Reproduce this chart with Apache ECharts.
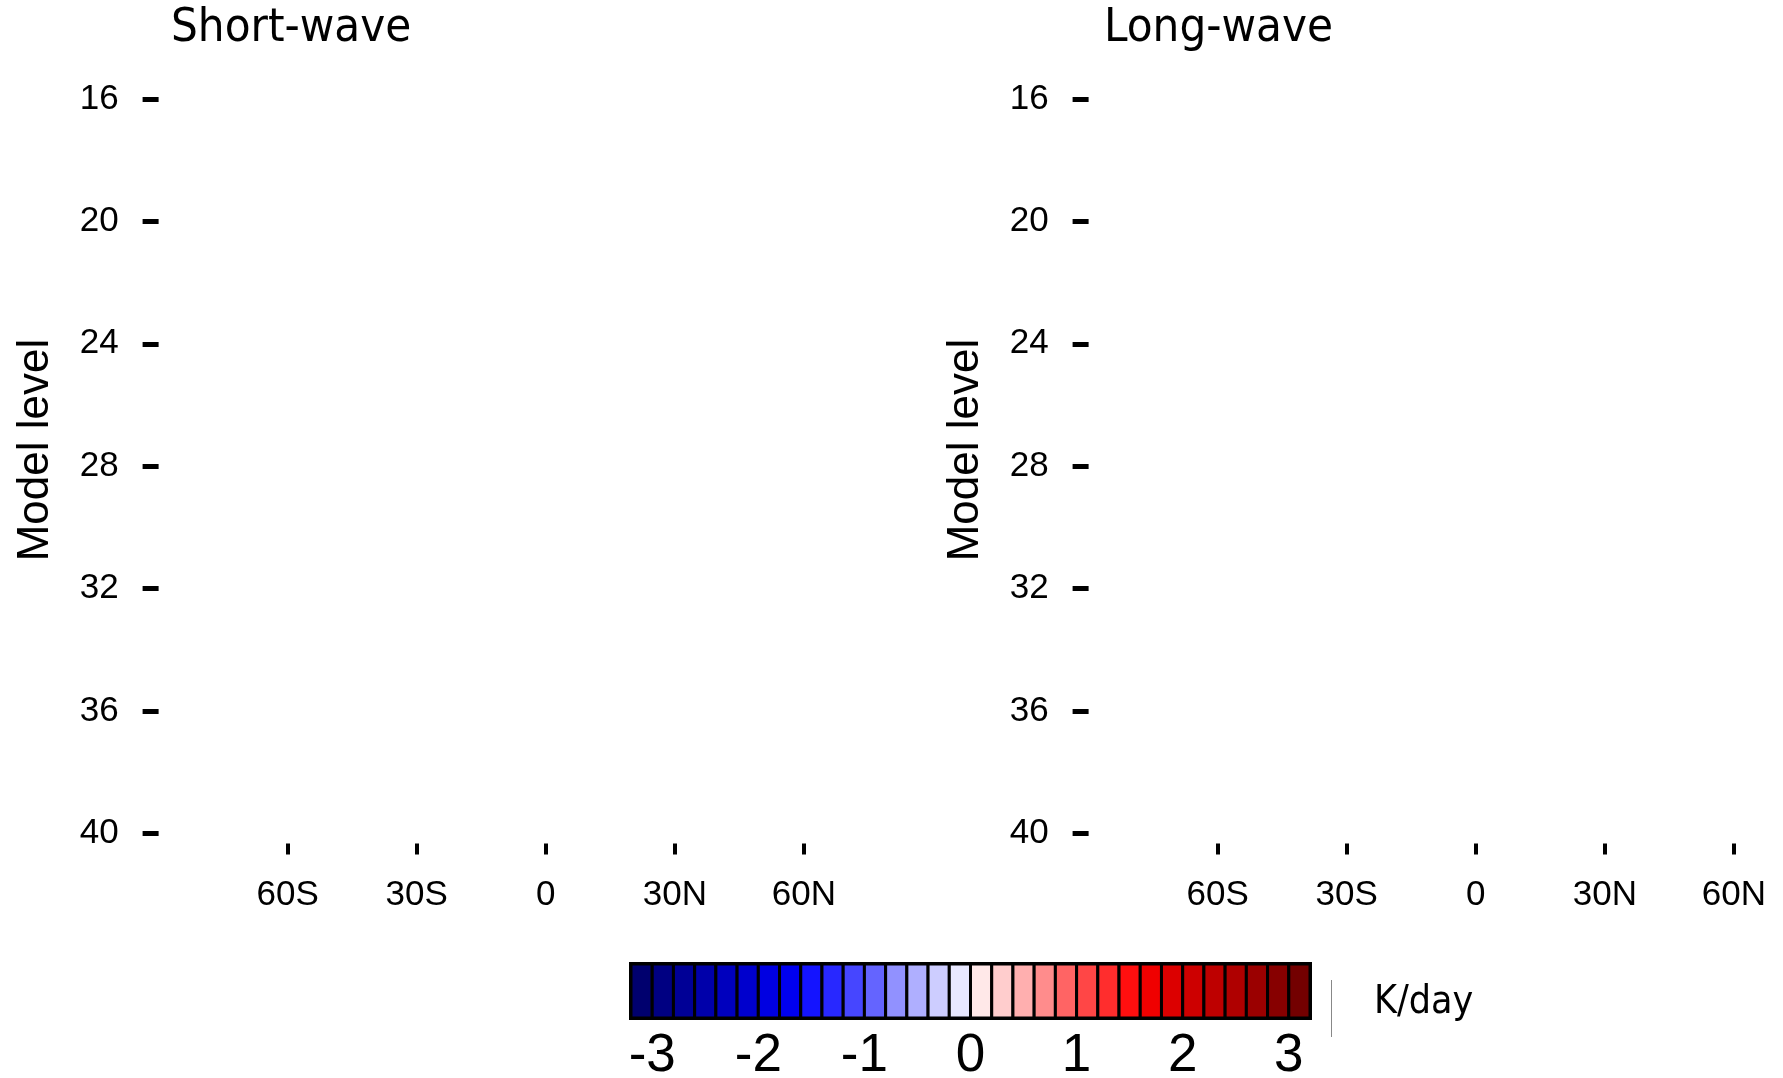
<!DOCTYPE html>
<html>
<head>
<meta charset="utf-8">
<script src="https://cdn.jsdelivr.net/npm/echarts@6/dist/echarts.min.js"></script>
<style>
html,body{margin:0;padding:0;background:#fff;overflow:hidden;}
#chart{width:1783px;height:1078px;}
</style>
</head>
<body>
<div id="chart"></div>
<script>
// ---- data ----
const panelTitles = ['Short-wave', 'Long-wave'];
const levelTicks = [16, 20, 24, 28, 32, 36, 40];
const latTicks = [-60, -30, 0, 30, 60];
const latLabels = ['60S', '30S', '0', '30N', '60N'];
const cbarBounds = [-3.2, -3.0, -2.8, -2.6, -2.4, -2.2, -2.0, -1.8, -1.6, -1.4, -1.2, -1.0, -0.8, -0.6, -0.4, -0.2, 0.0,
                    0.2, 0.4, 0.6, 0.8, 1.0, 1.2, 1.4, 1.6, 1.8, 2.0, 2.2, 2.4, 2.6, 2.8, 3.0, 3.2];
const cbarTicks = [-3, -2, -1, 0, 1, 2, 3];
const cbarUnit = 'K/day';
const palette = [
  '#00006e', '#000082', '#000096', '#0000aa', '#0000be', '#0000cd', '#0000e1', '#0000f0',
  '#1414ff', '#2828ff', '#4646ff', '#6464ff', '#9191ff', '#afafff', '#cdcdff', '#e8e8ff',
  '#ffe8e8', '#ffcdcd', '#ffafaf', '#ff8c8c', '#ff6464', '#ff4646', '#ff2d2d', '#ff0f0f',
  '#f00000', '#dc0000', '#cd0000', '#be0000', '#af0000', '#9b0000', '#870000', '#730000'
];

// ---- layout ----
const tickFont = 'Liberation Sans';
const titleFont = '"DejaVu Sans Condensed", "DejaVu Sans", sans-serif';
const gridLefts = [158.6, 1088.6];
const plotW = 774.3, plotTop = 98.9, plotH = 734.6;

const grids = [], xAxes = [], yAxes = [], series = [];
gridLefts.forEach((L, i) => {
  grids.push({left: L, top: plotTop, width: plotW, height: plotH, show: false, containLabel: false, outerBoundsMode: 'none'});
  xAxes.push({
    type: 'value', gridIndex: i, min: -90, max: 90, interval: 30, position: 'bottom', offset: 10,
    axisLine: {show: false, onZero: false}, splitLine: {show: false},
    axisTick: {show: true, inside: false, length: 11, lineStyle: {color: '#000', width: 4}, customValues: latTicks},
    axisLabel: {show: true, margin: 34, color: '#000', fontFamily: tickFont, fontSize: 35,
      customValues: latTicks,
      formatter: v => { const k = latTicks.indexOf(v); return k >= 0 ? latLabels[k] : ''; }}
  });
  yAxes.push({
    type: 'value', gridIndex: i, min: 16, max: 40, interval: 4, inverse: true, position: 'left',
    axisLine: {show: false, onZero: false}, splitLine: {show: false},
    axisTick: {show: true, inside: false, length: 16, lineStyle: {color: '#000', width: 5}, customValues: levelTicks},
    axisLabel: {show: true, margin: 40, color: '#000', fontFamily: tickFont, fontSize: 35, customValues: levelTicks}
  });
  series.push({type: 'scatter', xAxisIndex: i, yAxisIndex: i, data: [], silent: true});
});

// colour bar
grids.push({left: 631, top: 964, width: 679, height: 54, show: true, borderColor: '#000', borderWidth: 4,
  backgroundColor: 'transparent', outerBoundsMode: 'none'});
xAxes.push({
  type: 'value', gridIndex: 2, min: cbarBounds[0], max: cbarBounds[cbarBounds.length - 1], position: 'bottom',
  axisLine: {show: false, onZero: false}, axisTick: {show: false}, splitLine: {show: false},
  axisLabel: {show: true, margin: 12, color: '#000', fontFamily: tickFont, fontSize: 53, customValues: cbarTicks,
    formatter: v => String(v)}
});
yAxes.push({type: 'value', gridIndex: 2, min: 0, max: 1, show: false});
const cbarData = palette.map((c, k) => ({value: [cbarBounds[k], cbarBounds[k + 1], k]}));
series.push({
  type: 'custom', xAxisIndex: 2, yAxisIndex: 2, silent: true, z: 1,
  data: cbarData,
  renderItem: (params, api) => {
    const p0 = api.coord([api.value(0), 1]);
    const p1 = api.coord([api.value(1), 0]);
    return {type: 'rect', shape: {x: p0[0], y: p0[1], width: p1[0] - p0[0], height: p1[1] - p0[1]},
      style: {fill: palette[api.value(2)], stroke: '#000', lineWidth: 3}};
  }
});

const graphics = [
  {type: 'text', left: 171, top: 5, style: {text: panelTitles[0], font: '47px ' + titleFont, fill: '#000'}},
  {type: 'text', left: 1104, top: 5, style: {text: panelTitles[1], font: '47px ' + titleFont, fill: '#000'}},
  {type: 'text', x: 36, y: 450, rotation: Math.PI / 2,
    style: {text: 'Model level', font: '44px ' + tickFont, fill: '#000', align: 'center', verticalAlign: 'middle'}},
  {type: 'text', x: 966, y: 450, rotation: Math.PI / 2,
    style: {text: 'Model level', font: '44px ' + tickFont, fill: '#000', align: 'center', verticalAlign: 'middle'}},
  {type: 'text', x: 1374, y: 1003, style: {text: cbarUnit, font: '39px ' + titleFont, fill: '#000', align: 'left', verticalAlign: 'middle'}},
  {type: 'line', shape: {x1: 1331.5, y1: 980, x2: 1331.5, y2: 1037}, style: {stroke: '#888', lineWidth: 1}}
];

const chart = echarts.init(document.getElementById('chart'), null, {renderer: 'canvas'});
chart.setOption({
  animation: false,
  backgroundColor: '#fff',
  grid: grids, xAxis: xAxes, yAxis: yAxes, series: series, graphic: graphics
});
</script>
</body>
</html>
